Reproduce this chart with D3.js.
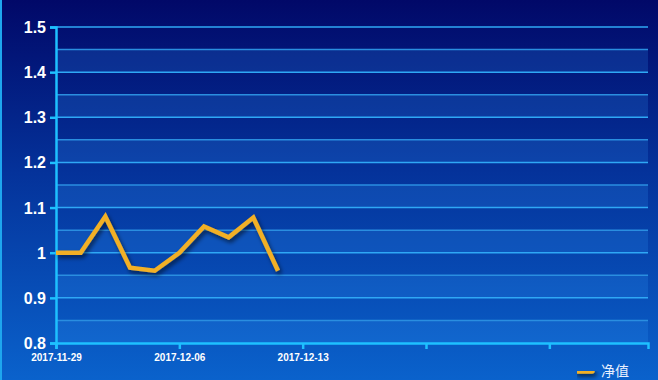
<!DOCTYPE html>
<html lang="zh">
<head>
<meta charset="UTF-8">
<script src="https://d3js.org/d3.v7.min.js"></script>
<style>
  html, body { margin: 0; padding: 0; background: #02096a; }
  svg { display: block; }
</style>
</head>
<body>
<div id="chart"></div>
<script>
  // trading days on the x axis; later slots are empty placeholders
  const dates = ["2017-11-29", "2017-11-30", "2017-12-01", "2017-12-04", "2017-12-05",
    "2017-12-06", "2017-12-07", "2017-12-08", "2017-12-11", "2017-12-12",
    "2017-12-13", "", "", "", "", "", "", "", "", "", "", "", "", "", ""];
  const netValue = [1.0, 1.0, 1.08, 0.967, 0.96, 1.0, 1.058, 1.034, 1.078, 0.96];
  const yTicks = [0.8, 0.9, 1, 1.1, 1.2, 1.3, 1.4, 1.5];
  const seriesName = "净值";

  const width = 658, height = 380;
  const margin = { top: 27, right: 10, bottom: 37, left: 56 };

  const svg = d3.select("#chart").append("svg")
    .attr("width", width)
    .attr("height", height);

  const defs = svg.append("defs");
  const bg = defs.append("linearGradient")
    .attr("id", "bg").attr("x1", 0).attr("y1", 0).attr("x2", 0).attr("y2", 1);
  bg.append("stop").attr("offset", "0%").attr("stop-color", "#010868");
  bg.append("stop").attr("offset", "45%").attr("stop-color", "#04329a");
  bg.append("stop").attr("offset", "100%").attr("stop-color", "#0a62cc");

  // shadow in user space so a flat line still gets a filter region
  const shadow = defs.append("filter").attr("id", "shadow")
    .attr("filterUnits", "userSpaceOnUse")
    .attr("x", 0).attr("y", 0).attr("width", width).attr("height", height);
  shadow.append("feDropShadow")
    .attr("dx", 2).attr("dy", 3).attr("stdDeviation", 2)
    .attr("flood-color", "#000").attr("flood-opacity", 0.55);

  svg.append("rect").attr("width", width).attr("height", height).attr("fill", "url(#bg)");

  // left edge line
  svg.append("rect").attr("x", 0).attr("y", 0).attr("width", 2).attr("height", height)
    .attr("fill", "#1ea6ee");

  const x = d3.scalePoint()
    .domain(d3.range(dates.length))
    .range([margin.left, width - margin.right]);

  const y = d3.scaleLinear()
    .domain([0.8, 1.5])
    .range([height - margin.bottom, margin.top]);

  const right = width - margin.right;

  // lighter bands between each half step and the major tick below it
  const bands = yTicks.slice(0, -1);
  svg.append("g").selectAll("rect")
    .data(bands)
    .join("rect")
    .attr("x", margin.left)
    .attr("width", right - margin.left)
    .attr("y", d => y(d + 0.05))
    .attr("height", d => y(d) - y(d + 0.05))
    .attr("fill", "#3aa0ff")
    .attr("fill-opacity", 0.18);

  // grid lines, major and minor
  svg.append("g").selectAll("line")
    .data(yTicks.slice(1))
    .join("line")
    .attr("x1", margin.left).attr("x2", right)
    .attr("y1", d => y(d)).attr("y2", d => y(d))
    .attr("stroke", "#2fa8f5").attr("stroke-width", 1.5);

  svg.append("g").selectAll("line")
    .data(bands)
    .join("line")
    .attr("x1", margin.left).attr("x2", right)
    .attr("y1", d => y(d + 0.05)).attr("y2", d => y(d + 0.05))
    .attr("stroke", "#2a8ee0").attr("stroke-width", 1.5);

  // y axis
  const yAxis = svg.append("g")
    .attr("transform", `translate(${margin.left},0)`)
    .call(d3.axisLeft(y).tickValues(yTicks).tickSize(6).tickPadding(4)
      .tickFormat(d => d3.format("")(+d.toFixed(1))));
  yAxis.select(".domain").attr("stroke", "#1ec0ff").attr("stroke-width", 2.5);
  yAxis.selectAll(".tick line").attr("stroke", "#1ec0ff").attr("stroke-width", 2.5);
  yAxis.selectAll("text")
    .attr("fill", "#ffffff")
    .attr("font-family", "Arial, 'Liberation Sans', sans-serif")
    .attr("font-size", 16)
    .attr("font-weight", "bold")
    .attr("dy", "0.34em");

  // x axis
  const tickIdx = d3.range(0, dates.length, 5);
  const xAxis = svg.append("g")
    .attr("transform", `translate(0,${height - margin.bottom})`)
    .call(d3.axisBottom(x).tickValues(tickIdx).tickSize(6).tickPadding(4)
      .tickFormat(i => dates[i]));
  xAxis.select(".domain").attr("stroke", "#1ec0ff").attr("stroke-width", 2.5);
  xAxis.selectAll(".tick line").attr("stroke", "#1ec0ff").attr("stroke-width", 2.5);
  xAxis.selectAll("text")
    .attr("fill", "#ffffff")
    .attr("font-family", "Arial, 'Liberation Sans', sans-serif")
    .attr("font-size", 10)
    .attr("font-weight", "bold")
    .attr("y", 11);

  // series line
  const line = d3.line()
    .x((d, i) => x(i))
    .y(d => y(d));

  svg.append("path")
    .datum(netValue)
    .attr("d", line)
    .attr("fill", "none")
    .attr("stroke", "#f2b025")
    .attr("stroke-width", 4.5)
    .attr("stroke-linejoin", "miter")
    .attr("filter", "url(#shadow)");

  // legend
  const legend = svg.append("g").attr("transform", "translate(577,371)");
  legend.append("line")
    .attr("x1", 0).attr("x2", 15).attr("y1", 0).attr("y2", 0)
    .attr("stroke", "#f2b025").attr("stroke-width", 5.5).attr("stroke-linecap", "round")
    .attr("filter", "url(#shadow)");
  legend.append("text")
    .attr("x", 24).attr("y", 0).attr("dy", "0.36em")
    .attr("fill", "#e8f0ff")
    .attr("font-family", "'Noto Sans CJK SC', sans-serif")
    .attr("font-size", 14)
    .text(seriesName);
</script>
</body>
</html>
